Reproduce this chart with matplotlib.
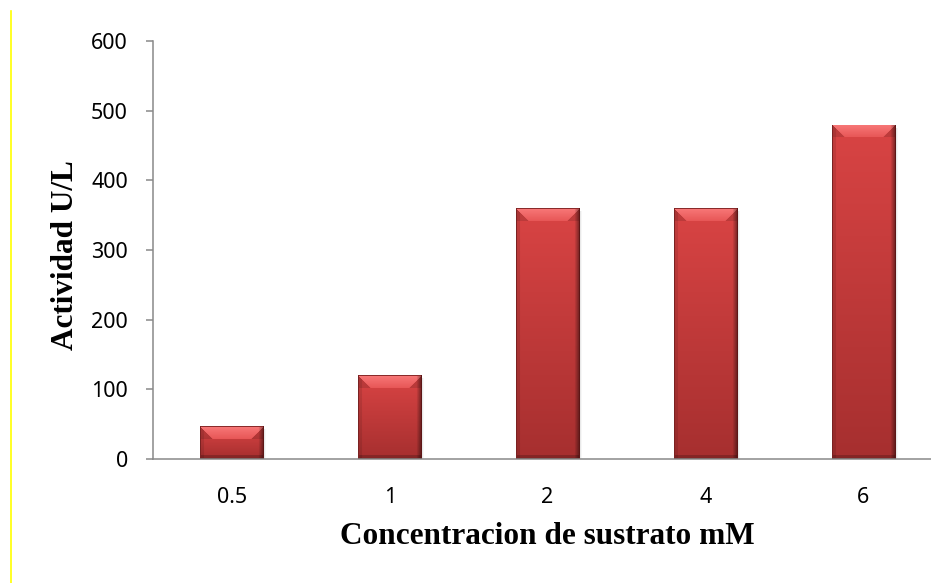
import numpy as np
import matplotlib
matplotlib.use("Agg")
import matplotlib.pyplot as plt
from matplotlib.colors import to_rgb
from matplotlib.lines import Line2D
from matplotlib.patches import Rectangle

# substrate concentration (mM) and measured activity (U/L)
concentraciones = ["0.5", "1", "2", "4", "6"]
actividad = [47, 120, 360, 360, 480]
y_ticks = [0, 100, 200, 300, 400, 500, 600]

W, H, DPI = 931, 583, 100
AX_LEFT, AX_RIGHT, AX_TOP, AX_BOTTOM = 153, 942, 41, 459
AXIS_GREY = "#898989"


def bevel_face(wpx, hpx):
    """RGB array for an Excel-like bevelled red bar, wpx x hpx pixels."""
    top_c = np.array(to_rgb("#d94444"))
    bot_c = np.array(to_rgb("#a62f2f"))
    t = np.linspace(0, 1, hpx)[:, None, None]
    img = top_c * (1 - t) + bot_c * t
    img = np.repeat(img, wpx, axis=1)

    rows = np.arange(hpx)[:, None]
    cols = np.arange(wpx)[None, :]

    # top bevel: trapezoid with 45 degree corners
    b = min(13, hpx // 2)
    top_mask = (rows < b) & (cols >= rows) & (cols <= wpx - 1 - rows)
    tb = np.clip(rows / max(b - 1, 1), 0, 1)
    bev = np.array(to_rgb("#f87878")) * (1 - tb[..., None]) + np.array(to_rgb("#e85858")) * tb[..., None]
    bev = np.broadcast_to(bev, (hpx, 1, 3)).repeat(wpx, axis=1)
    img = np.where(top_mask[..., None], bev, img)
    # darker corner wedges beside the top bevel
    corner = (rows < b) & ~top_mask
    img = np.where(corner[..., None], img * 0.88, img)

    # side bevels
    left = (cols < 4) & ~top_mask
    img = np.where(left[..., None], img * 0.9, img)
    ramp = np.clip((cols - (wpx - 6)) / 5.0, 0, 1)
    img = img * (1 - 0.45 * ramp[..., None])

    # bottom bevel
    bottom = rows >= hpx - 4
    img = np.where(bottom[..., None], img * 0.8, img)

    # thin dark outline
    img[0, :] = to_rgb("#8a2a2a")
    img[:, 0] = to_rgb("#7a2222")
    img[:, -1] = to_rgb("#5e1616")
    img[-1, :] = to_rgb("#5e1616")
    return np.clip(img, 0, 1)


fig = plt.figure(figsize=(W / DPI, H / DPI), dpi=DPI)
ax = fig.add_axes([AX_LEFT / W, 1 - AX_BOTTOM / H,
                   (AX_RIGHT - AX_LEFT) / W, (AX_BOTTOM - AX_TOP) / H])

x = np.arange(len(concentraciones))
bars = ax.bar(x, actividad, width=0.4, color="none", edgecolor="none", zorder=1)

ax.set_xlim(-0.5, len(concentraciones) - 0.5)
ax.set_ylim(0, 600)
ax.set_autoscale_on(False)

px_per_x = (AX_RIGHT - AX_LEFT) / len(concentraciones)
px_per_y = (AX_BOTTOM - AX_TOP) / 600.0

for rect in bars:
    x0, w, h = rect.get_x(), rect.get_width(), rect.get_height()
    wpx = max(int(round(w * px_per_x)), 8)
    hpx = max(int(round(h * px_per_y)), 8)
    # soft shadow on the right side
    for k, a in enumerate([0.10, 0.06, 0.03]):
        ax.add_patch(Rectangle((x0 + w, 0), (k + 1) / px_per_x, h - 3 / px_per_y,
                               color="#000000", alpha=a, lw=0, zorder=0.8))
    im = ax.imshow(bevel_face(wpx, hpx), extent=(x0, x0 + w, 0, h),
                   aspect="auto", interpolation="bilinear", zorder=1.5)
    im.set_clip_path(rect)
    rect.set_clip_on(False)

for side in ("top", "right"):
    ax.spines[side].set_visible(False)
for side in ("left", "bottom"):
    ax.spines[side].set_color(AXIS_GREY)
    ax.spines[side].set_linewidth(1.1)
    ax.spines[side].set_zorder(3)

tick_font = {"family": ["Noto Sans", "DejaVu Sans"], "size": 15.5}
ax.set_yticks(y_ticks)
ax.set_yticklabels([str(v) for v in y_ticks], fontdict=tick_font)
ax.set_xticks(x)
ax.set_xticklabels(concentraciones, fontdict=tick_font)
ax.tick_params(axis="y", direction="out", length=5, width=1.1, color=AXIS_GREY, pad=13)
ax.tick_params(axis="x", length=0, pad=20)

label_font = {"family": ["Liberation Serif", "DejaVu Serif"], "size": 22.5, "weight": "bold"}
ax.set_xlabel("Concentracion de sustrato mM", fontdict=label_font, va="baseline")
ax.xaxis.set_label_coords(0.5, (AX_BOTTOM - 544) / (AX_BOTTOM - AX_TOP))
ax.set_ylabel("Actividad U/L", fontdict=label_font, va="center")
ax.yaxis.set_label_coords((65 - AX_LEFT) / (AX_RIGHT - AX_LEFT), 0.488)

# yellow marker line along the left edge
fig.add_artist(Line2D([10.5 / W, 10.5 / W], [0, 1 - 11 / H],
                      transform=fig.transFigure, color="#ffff00", lw=1.2))

fig.savefig("out.png", dpi=DPI)
